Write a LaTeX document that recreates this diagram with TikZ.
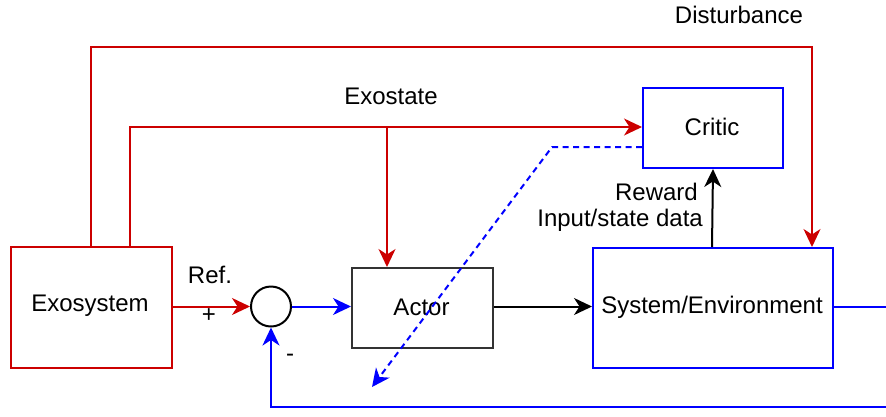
\documentclass[tikz,border=0pt]{standalone}
\usepackage{fontspec}
\setmainfont{Liberation Sans}
\usetikzlibrary{arrows.meta}
\definecolor{dred}{RGB}{204,0,0}
\definecolor{dblue}{RGB}{0,0,255}
\definecolor{dgray}{RGB}{51,51,51}
\begin{document}
\begin{tikzpicture}[x=1pt,y=-1pt,
  every node/.style={font=\fontsize{24}{28}\selectfont, inner sep=0pt},
  blk/.style={draw, line width=2pt, minimum width=#1, anchor=north west, inner sep=0pt},
  tip/.style={-{Stealth[length=18pt,width=17pt,inset=5.5pt]}},
  ln/.style={line width=2pt}]
\useasboundingbox (0,0) rectangle (886,416);
% boxes
\node[blk=161pt, draw=dred, minimum height=121pt] (exo) at (10,246) {};
\node at (90,306) {Exosystem};
\node[blk=141pt, draw=dgray, minimum height=80pt] (actor) at (351,267) {};
\node at (421.5,307) {Actor};
\node[blk=240pt, draw=dblue, minimum height=120pt] (sys) at (592,247) {};
\node at (712,307) {System/Environment};
\node[blk=140pt, draw=dblue, minimum height=80pt] (critic) at (642,87) {};
\node at (712,127) {Critic};
\node[draw=black, line width=2pt, circle, minimum size=40pt] (sum) at (271,306.5) {};
% coordinates
\coordinate (d1) at (91,47);
\coordinate (d2) at (812,47);
\coordinate (e1) at (130,127);
\coordinate (eb) at (387,127);
\coordinate (q1) at (552,147);
\coordinate (q0) at (642,147);
\coordinate (qe) at (372,387);
\coordinate (r1) at (890,307);
\coordinate (r2) at (890,407);
\coordinate (r3) at (271,407);
% red connectors
\draw[ln, dred, tip] (exo.north west -| d1) -- (d1) -- (d2) -- (sys.north west -| d2);
\draw[ln, dred, tip] (exo.north west -| e1) -- (e1) -- (critic.west |- e1);
\draw[ln, dred, tip] (eb) -- (actor.north west -| eb);
\draw[ln, dred, tip] (exo.east |- sum) -- (sum.west);
% blue / black connectors
\draw[ln, dblue, tip] (sum.east) -- (actor.west |- sum);
\draw[ln, black, tip] (actor.east |- sum) -- (sys.west |- sum);
\draw[ln, dblue, tip] (sys.east |- r1) -- (r1) -- (r2) -- (r3) -- (sum.south);
\draw[ln, black, tip] (712,247) -- (critic.south);
\draw[line width=2pt, dblue, dash pattern=on 6pt off 4.5pt, tip] (q0) -- (q1) -- (qe);
% labels
\node at (739,15) {Disturbance};
\node at (391,96) {Exostate};
\node at (210,275) {Ref.};
\node at (209,316) {+};
\node at (290,358) {-};
\node[anchor=east] at (698,192) {Reward};
\node[anchor=east] at (703,220) {Input/state data};
\end{tikzpicture}
\end{document}
